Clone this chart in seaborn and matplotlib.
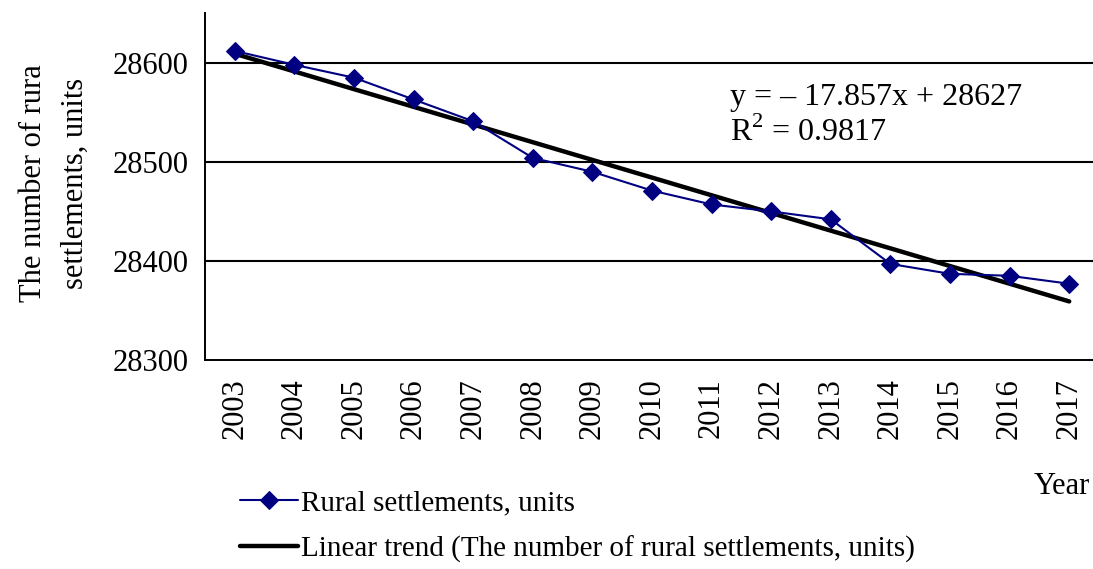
import numpy as np
import pandas as pd
import matplotlib
matplotlib.use("Agg")
import matplotlib.pyplot as plt
import seaborn as sns

years = ["2003", "2004", "2005", "2006", "2007", "2008", "2009", "2010",
         "2011", "2012", "2013", "2014", "2015", "2016", "2017"]
settlements = [28612, 28598, 28585, 28563, 28541, 28504, 28490, 28471,
               28457, 28450, 28442, 28397, 28387, 28385, 28377]
trend_slope = -17.857
trend_intercept = 28627
r_squared = 0.9817
y_ticks = [28300, 28400, 28500, 28600]

sns.set_theme(style="white")
plt.rcParams["font.family"] = ["Liberation Serif", "DejaVu Serif"]
plt.rcParams["mathtext.fontset"] = "custom"
plt.rcParams["mathtext.rm"] = "Liberation Serif"
for k in ["text.color", "axes.labelcolor", "xtick.color", "ytick.color"]:
    plt.rcParams[k] = "black"

FS = 22

fig = plt.figure(figsize=(10.93, 5.69), dpi=100)
ax = fig.add_axes([205 / 1093, 1 - 360 / 569, 894 / 1093, (360 - 13.3) / 569])

idx = np.arange(len(years))
df = pd.DataFrame({"pos": idx, "value": settlements})
trend_x = idx + 1
df_trend = pd.DataFrame({"pos": idx, "value": trend_slope * trend_x + trend_intercept})

for yv in y_ticks[1:]:
    ax.axhline(yv, color="black", lw=1.5, zorder=0)

sns.lineplot(data=df_trend, x="pos", y="value", ax=ax, color="black", lw=3.2,
             label="Linear trend (The number of rural settlements, units)", zorder=2)
sns.lineplot(data=df, x="pos", y="value", ax=ax, color="#000080", lw=1.5,
             marker="D", markersize=9, markeredgecolor="#000080",
             label="Rural settlements, units", zorder=3)

ax.set_xlim(-0.5, len(years) - 0.5)
ax.set_ylim(28300, 28650)
ax.set_yticks(y_ticks)
ax.set_yticklabels([str(v) for v in y_ticks], fontsize=FS)
ax.set_xticks(idx)
ax.set_xticklabels(years, rotation=90, fontsize=FS)
ax.set_xticks(np.arange(len(years) + 1) - 0.5, minor=True)
ax.tick_params(axis="x", which="major", length=0, pad=13)
ax.tick_params(axis="x", which="minor", length=8, width=1.3, color="black", direction="out")
ax.tick_params(axis="y", which="major", length=12, width=1.3, color="black",
               direction="inout", pad=6)

for s in ["top", "right"]:
    ax.spines[s].set_visible(False)
for s in ["left", "bottom"]:
    ax.spines[s].set_color("black")
    ax.spines[s].set_linewidth(1.4)

ax.set_xlabel("")
ax.set_ylabel("The number of rura\nsettlements, units", fontsize=FS, linespacing=1.6)
ax.yaxis.set_label_coords((90 - 205) / 894, (360 - 183) / 346.7)

ax.text(730 / 1093, 1 - 97 / 569,
        f"y = – {abs(trend_slope):.3f}x + {trend_intercept}",
        transform=fig.transFigure, fontsize=FS + 1, va="center", ha="left")
ax.text(730 / 1093, 1 - 132 / 569,
        f"R$^2$ = {r_squared}",
        transform=fig.transFigure, fontsize=FS + 1, va="center", ha="left")
fig.text(1090 / 1093, 1 - 486 / 569, "Year", fontsize=FS, ha="right", va="center")

handles, labels = ax.get_legend_handles_labels()
ax.get_legend().remove()
order = [1, 0]
fig.legend([handles[i] for i in order], [labels[i] for i in order],
           loc="upper left", bbox_to_anchor=(240 / 1093, 1 - 490 / 569),
           frameon=False, fontsize=21, handlelength=2.0, handletextpad=0.1,
           labelspacing=0.65, borderaxespad=0, borderpad=0)

fig.savefig("out.png", dpi=100)
